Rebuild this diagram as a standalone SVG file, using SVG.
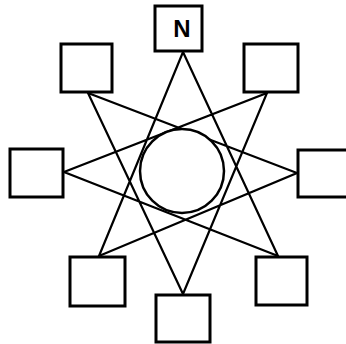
<svg xmlns="http://www.w3.org/2000/svg" width="346" height="344" viewBox="0 0 346 344">
<style>
.box{fill:#fff;stroke:#000;stroke-width:3}
.edge{fill:none;stroke:#000;stroke-width:2.2;stroke-linejoin:miter}
.lbl{font-family:"Liberation Sans",Arial,sans-serif;font-weight:bold;font-size:24px;fill:#000}
</style>
<rect width="346" height="344" fill="#fff"/>
<g id="connectors">
<polygon class="edge" points="183,52 278,256 64,172 267,93 183,294 88,93 297,173 99,256"/>
</g>
<g id="center"><circle cx="182" cy="171" r="42" fill="#fff" stroke="#000" stroke-width="2.5"/></g>
<g id="nodeN"><rect class="box" x="155" y="6" width="47" height="45"/><text class="lbl" x="182" y="37" text-anchor="middle">N</text></g>
<g id="nodeTL"><rect class="box" x="61" y="44" width="51" height="48"/></g>
<g id="nodeTR"><rect class="box" x="244" y="44" width="54" height="48"/></g>
<g id="nodeL"><rect class="box" x="10" y="149" width="53" height="48"/></g>
<g id="nodeR"><rect class="box" x="298" y="150" width="56" height="47"/></g>
<g id="nodeBL"><rect class="box" x="70" y="257" width="55" height="49"/></g>
<g id="nodeB"><rect class="box" x="156" y="295" width="54" height="47"/></g>
<g id="nodeBR"><rect class="box" x="256" y="257" width="51" height="48"/></g>
</svg>
